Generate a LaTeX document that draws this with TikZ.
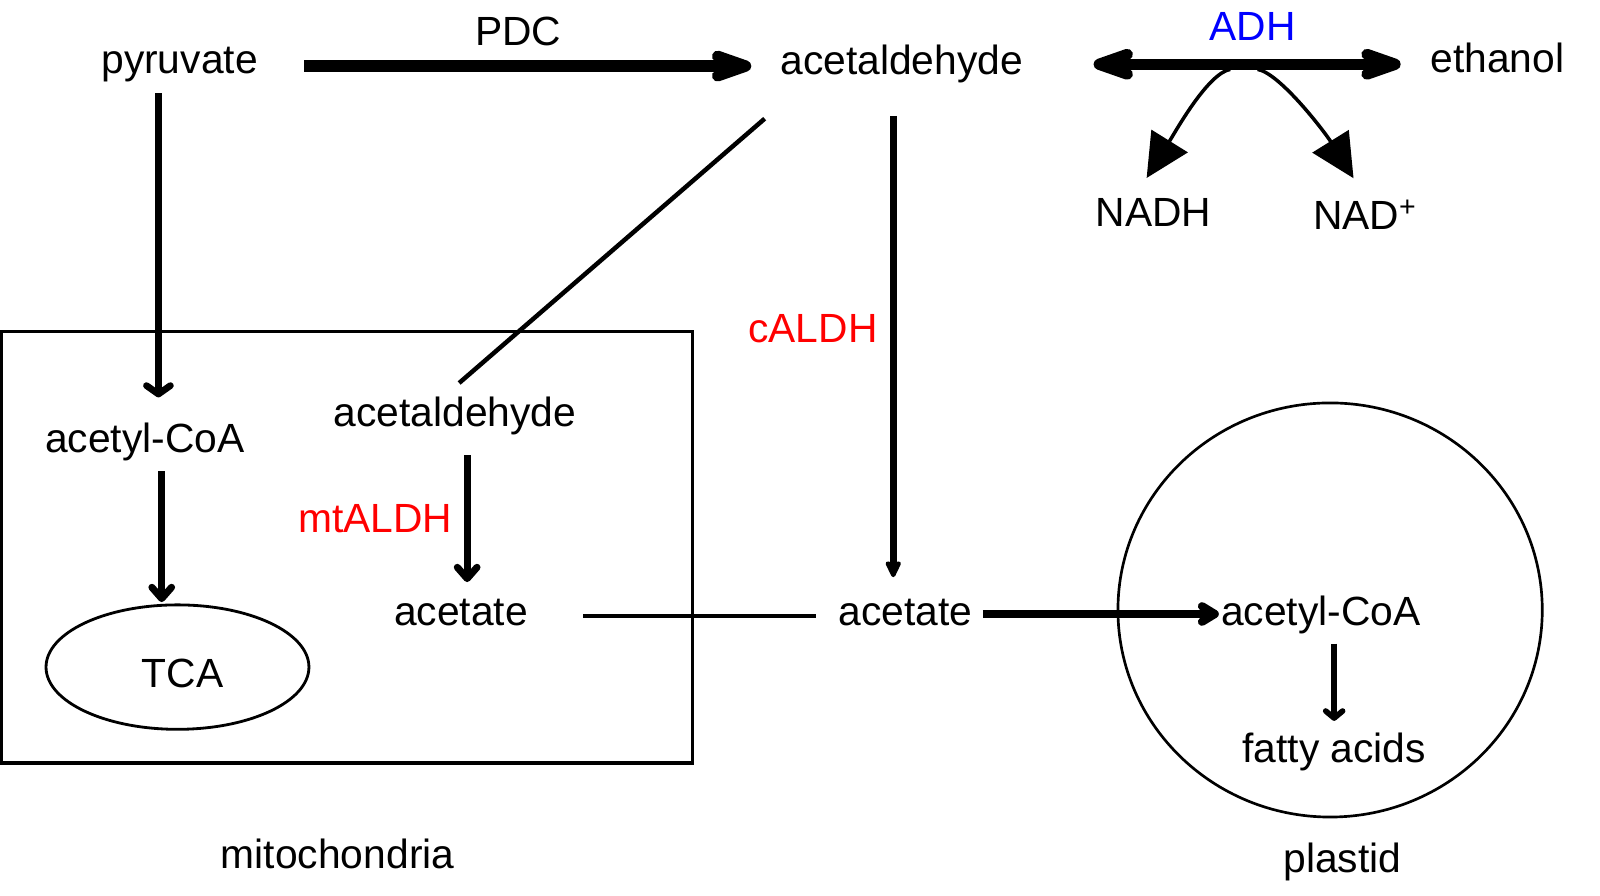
\documentclass[tikz,border=0pt]{standalone}
\usepackage{fontspec}
\setmainfont{Liberation Sans}
\usepackage{tikz}
\usetikzlibrary{arrows.meta,shapes.geometric}

\begin{document}
\begin{tikzpicture}[x=0.0255cm,y=-0.0255cm,
    lbl/.style={inner sep=0pt,text height=21pt,text depth=7pt,font=\fontsize{29}{35}\selectfont},
    enz/.style={lbl,text=red},
    bigflux/.style={line width=8pt,-{Straight Barb[round,length=20pt,width=14pt]}},
    midflux/.style={line width=5pt,-{Straight Barb[round,length=8pt,width=14pt]}},
    wideflux/.style={line width=4.8pt,-{Straight Barb[round,length=6pt,width=17pt]}},
    coneflux/.style={line width=5pt,-{Stealth[round,length=14pt,width=13pt,inset=2pt]}},
    thinflux/.style={line width=4pt,-{Straight Barb[round,length=5pt,width=12pt]}},
    cofac/.style={line width=2.5pt,-{Triangle[length=31pt,width=30pt]}},
    link/.style={line width=3.2pt},
    wall/.style={line width=#1}]

    \useasboundingbox (0,0) rectangle (1568.6,877.5);

    % --- compartments
    \draw[wall=2.35pt] (1.5,325) rectangle (679,748);
    \draw[wall=1.9pt] (1304,598) ellipse [x radius=208,y radius=203];
    \node[ellipse,draw,line width=2pt,inner sep=0pt,minimum width=187pt,minimum height=88.5pt] (tca) at (174,654) {};

    % --- metabolites
    \node[lbl] (pyr)    at (176,62)   {pyruvate};
    \node[lbl] (acald)  at (884,63)   {acetaldehyde};
    \node[lbl] (etoh)   at (1468,61)  {ethanol};
    \node[lbl] (nadh)   at (1131,212) {NADH};
    \node[lbl] (nad)    at (1338,215) {NAD\textsuperscript{+}};
    \node[lbl] (acoam)  at (142,434)  {acetyl-CoA};
    \node[lbl] (acaldm) at (446,408)  {acetaldehyde};
    \node[lbl] (acm)    at (452,604)  {acetate};
    \node[lbl] (acc)    at (888,604)  {acetate};
    \node[lbl] (acoap)  at (1295,604) {acetyl-CoA};
    \node[lbl] (fa)     at (1308,738) {fatty acids};
    \node[lbl] (tcalbl) at (179,664)  {TCA};
    \node[lbl] (mito)   at (331,842)  {mitochondria};
    \node[lbl] (plas)   at (1316,846) {plastid};

    % --- enzymes
    \node[lbl] (pdc)    at (508,35)   {PDC};
    \node[lbl,text=blue] (adh) at (1228,30) {ADH};
    \node[enz] (caldh)  at (797,326)  {cALDH};
    \node[enz] (mtaldh) at (368,512)  {mtALDH};

    % --- cytosol
    \draw[bigflux,shorten <=33pt,shorten >=20.5pt] ([yshift=-2pt]pyr.east) -- ([yshift=-2pt]pyr.east -| acald.west);
    \draw[bigflux,{Straight Barb[round,length=20pt,width=14pt]}-{Straight Barb[round,length=20pt,width=14pt]},shorten <=50pt,shorten >=21pt] (acald.east) -- (acald.east -| etoh.west);
    \coordinate (adhl) at (1206,68);
    \coordinate (adhr) at (1233,68);
    \draw[cofac] (adhl) .. controls +(-22,4) and +(28,-45) .. ([xshift=-5pt,yshift=13pt]nadh.north);
    \draw[cofac] (adhr) .. controls +(22,4) and +(-28,-45) .. ([xshift=-8pt,yshift=15pt]nad.north);
    \draw[coneflux,shorten <=22.5pt,shorten >=13.5pt] ([xshift=-6pt]acald.south) -- ([xshift=-6pt]acald.south |- acc.north);
    \draw[link] ([xshift=-11pt,yshift=-24.5pt]acald.south west) -- ([xshift=3pt,yshift=9.4pt]acaldm.north);

    % --- mitochondria
    \draw[wideflux,shorten <=7pt,shorten >=18pt] ([xshift=-15pt]pyr.south) -- ([xshift=-15pt]pyr.south |- acoam.north);
    \draw[midflux,shorten <=6pt,shorten >=1pt] ([xshift=12pt]acoam.south) -- ([xshift=12pt]acoam.south |- tca.north);
    \draw[midflux,shorten <=13.5pt,shorten >=10pt] ([xshift=8.7pt]acaldm.south) -- ([xshift=8.7pt]acaldm.south |- acm.north);
    \draw[link,shorten <=39pt,shorten >=16pt] (acm) -- (acc);

    % --- plastid
    \draw[line width=5.9pt,-{Straight Barb[round,length=9pt,width=11pt]},shorten <=7pt,shorten >=1.5pt] ([yshift=1.5pt]acc.east) -- ([yshift=1.5pt]acc.east -| acoap.west);
    \draw[thinflux,shorten <=5.3pt,shorten >=8.5pt] ([xshift=9.4pt]acoap.south) -- ([xshift=9.4pt]acoap.south |- fa.north);
\end{tikzpicture}
\end{document}
